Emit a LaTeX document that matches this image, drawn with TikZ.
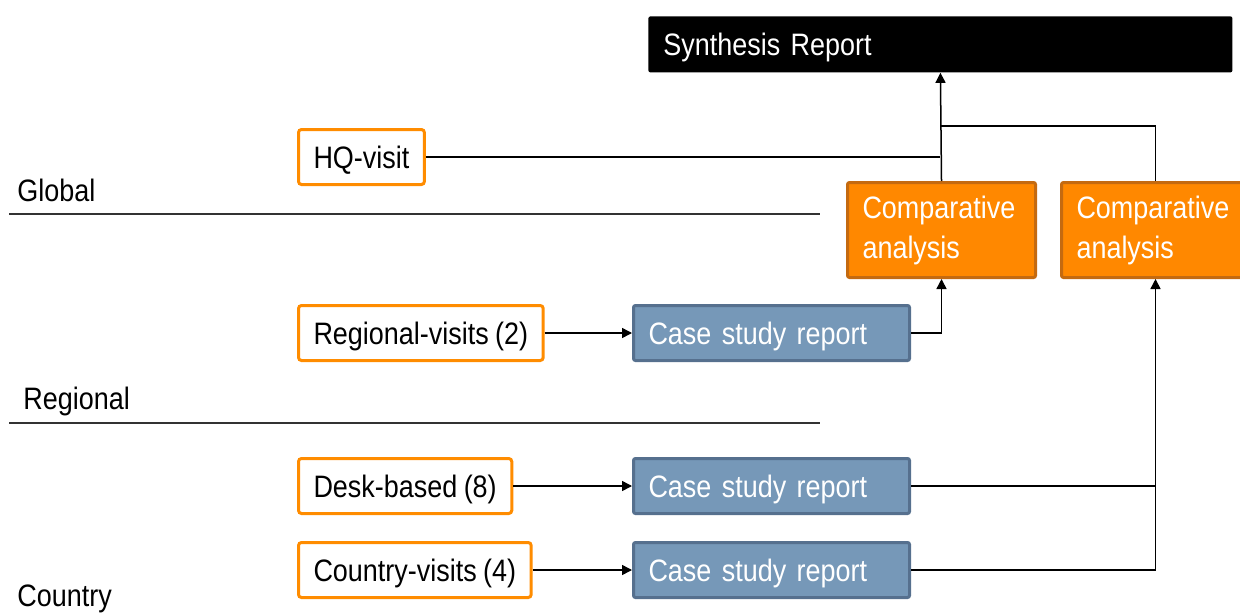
\documentclass[tikz,border=0pt]{standalone}
\usepackage{fontspec}
\setmainfont{Liberation Sans}[FakeStretch=0.87, WordSpace=0.85]
\usetikzlibrary{arrows.meta, calc}
\definecolor{SrcOrange}{HTML}{FF8C00}
\definecolor{CompOrange}{HTML}{FF8800}
\definecolor{CompEdge}{HTML}{C46A10}
\definecolor{CaseBlue}{HTML}{7698B8}
\definecolor{CaseEdge}{HTML}{56708E}
\definecolor{RuleGray}{HTML}{333333}

\begin{document}
\begin{tikzpicture}[
    x=0.5pt, y=-0.5pt,
    font=\fontsize{15.5}{20}\selectfont,
    level/.style={anchor=base west, inner sep=0pt},
    source/.style={draw=SrcOrange, fill=white, line width=1.5pt, rounded corners=1.5pt, anchor=north west, inner xsep=7.5pt, minimum height=27.5pt, text height=11pt, text depth=0pt},
    casebox/.style={draw=CaseEdge, fill=CaseBlue, line width=1.5pt, rounded corners=1pt, text=white, anchor=north west, text width=123pt, inner xsep=7.5pt, align=left, minimum height=27.5pt, text height=11pt, text depth=0pt},
    analysis/.style={draw=CompEdge, fill=CompOrange, line width=1.5pt, rounded corners=1pt, text=white, anchor=north west, text width=79pt, inner xsep=7.5pt, align=left, minimum height=47.5pt},
    synth/.style={fill=black, rounded corners=1pt, text=white, anchor=north west, text width=277pt, inner xsep=7.5pt, align=left, minimum height=28pt, text height=11pt, text depth=0pt},
    wire/.style={line width=0.75pt},
    link/.style={line width=0.75pt, -{Triangle[length=5pt, width=5pt]}},
    divider/.style={line width=1pt, draw=RuleGray}
]
\useasboundingbox (0,0) rectangle (1240,615);
\clip (0,0) rectangle (1240,615);
\node[synth] (synthesis) at (648,16) {Synthesis Report};
\node[analysis] (compA) at (846,181) {Comparative\\analysis};
\node[analysis] (compB) at (1060,181) {Comparative\\analysis};
\node[source] (hq) at (297,128) {HQ-visit};
\node[source] (regional) at (297,304) {Regional-visits (2)};
\node[source] (desk) at (297,457) {Desk-based (8)};
\node[source] (country) at (297,541) {Country-visits (4)};
\node[casebox] (caseA) at (632,304) {Case study report};
\node[casebox] (caseB) at (632,457) {Case study report};
\node[casebox] (caseC) at (632,541) {Case study report};
\node[level] (global) at (17,201) {Global};
\node[level] (region) at (23,409) {Regional};
\node[level] (nation) at (17,606) {Country};
\coordinate (globalL) at (9,214);
\coordinate (globalR) at (820,214);
\coordinate (regionL) at (9,423);
\coordinate (regionR) at (820,423);
\draw[divider] (globalL) -- (globalR);
\draw[divider] (regionL) -- (regionR);
\coordinate (merge) at (synthesis.south |- 0,126);
\draw[link] (compA.north) -- (synthesis.south);
\draw[wire] (hq.east) -- (hq.east -| synthesis.south);
\draw[wire] (compB.north) |- (merge);
\draw[link] (regional.east) -- (caseA.west);
\draw[link] (desk.east) -- (caseB.west);
\draw[link] (country.east) -- (caseC.west);
\draw[link] (caseA.east) -| (compA.south);
\draw[link] (caseB.east) -| (compB.south);
\draw[wire] (caseC.east) -| (caseB.east -| compB.south);
\end{tikzpicture}
\end{document}
